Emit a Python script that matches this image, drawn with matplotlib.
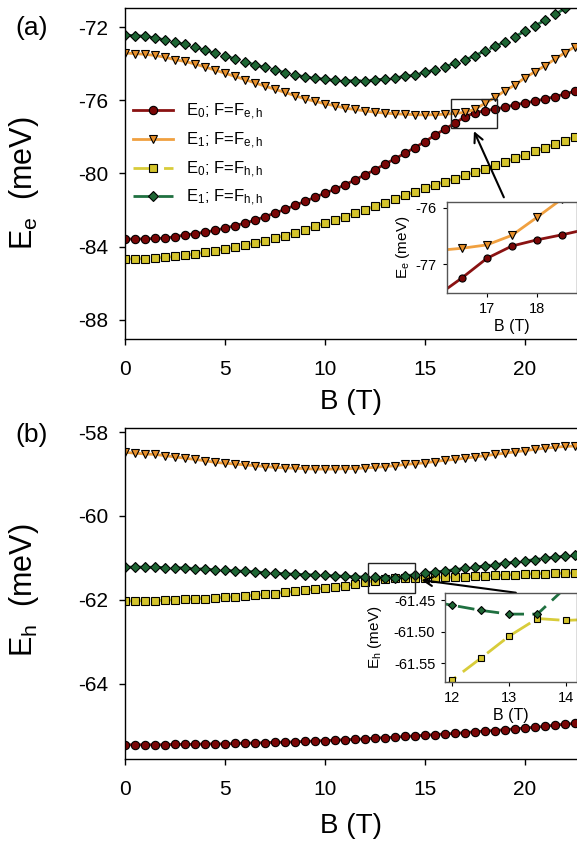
import matplotlib
matplotlib.use('Agg')
import matplotlib.pyplot as plt
from matplotlib.lines import Line2D
from matplotlib.patches import Rectangle

plt.rcParams['font.family'] = ['Liberation Sans', 'DejaVu Sans']
plt.rcParams['mathtext.fontset'] = 'custom'
plt.rcParams['mathtext.rm'] = 'Liberation Sans'
plt.rcParams['mathtext.it'] = 'Liberation Sans:italic'
plt.rcParams['axes.unicode_minus'] = False

# magnetic field (T)
B = [0.0, 0.5, 1.0, 1.5, 2.0, 2.5, 3.0, 3.5, 4.0, 4.5, 5.0, 5.5, 6.0, 6.5, 7.0, 7.5,
     8.0, 8.5, 9.0, 9.5, 10.0, 10.5, 11.0, 11.5, 12.0, 12.5, 13.0, 13.5, 14.0, 14.5,
     15.0, 15.5, 16.0, 16.5, 17.0, 17.5, 18.0, 18.5, 19.0, 19.5, 20.0, 20.5, 21.0,
     21.5, 22.0, 22.5]

# (a) electron energies (meV)
ee_E0_feh = [-83.58, -83.58, -83.57, -83.55, -83.53, -83.45, -83.36, -83.29, -83.20, -83.11,
             -82.98, -82.85, -82.71, -82.55, -82.36, -82.16, -81.96, -81.74, -81.52, -81.30,
             -81.07, -80.86, -80.62, -80.35, -80.07, -79.80, -79.48, -79.20, -78.89, -78.58,
             -78.26, -77.90, -77.57, -77.25, -76.90, -76.68, -76.57, -76.48, -76.38, -76.24,
             -76.15, -76.04, -75.93, -75.80, -75.66, -75.50]
ee_E1_feh = [-73.42, -73.45, -73.49, -73.55, -73.65, -73.78, -73.88, -74.02, -74.18, -74.35,
             -74.52, -74.70, -74.87, -75.05, -75.23, -75.40, -75.57, -75.75, -75.92, -76.06,
             -76.19, -76.30, -76.43, -76.50, -76.58, -76.65, -76.70, -76.74, -76.76, -76.79,
             -76.80, -76.79, -76.76, -76.72, -76.66, -76.49, -76.17, -75.84, -75.48, -75.16,
             -74.77, -74.44, -74.11, -73.75, -73.40, -73.07]
ee_E0_fhh = [-84.67, -84.67, -84.65, -84.62, -84.58, -84.53, -84.47, -84.39, -84.31, -84.22,
             -84.13, -84.03, -83.93, -83.80, -83.67, -83.53, -83.39, -83.23, -83.07, -82.89,
             -82.71, -82.53, -82.35, -82.16, -81.98, -81.79, -81.60, -81.40, -81.20, -81.00,
             -80.81, -80.62, -80.45, -80.28, -80.10, -79.93, -79.75, -79.55, -79.36, -79.17,
             -78.97, -78.79, -78.59, -78.39, -78.20, -77.99]
ee_E1_fhh = [-72.44, -72.47, -72.50, -72.60, -72.70, -72.83, -72.95, -73.08, -73.28, -73.43,
             -73.57, -73.74, -73.89, -74.07, -74.21, -74.35, -74.49, -74.62, -74.72, -74.79,
             -74.86, -74.91, -74.93, -74.94, -74.93, -74.89, -74.84, -74.77, -74.70, -74.61,
             -74.48, -74.33, -74.16, -73.99, -73.80, -73.56, -73.30, -73.06, -72.80, -72.52,
             -72.23, -71.93, -71.63, -71.31, -70.98, -70.65]

# (b) hole energies (meV)
eh_E0_feh = [-65.46, -65.46, -65.46, -65.46, -65.46, -65.45, -65.45, -65.45, -65.44, -65.44,
             -65.44, -65.43, -65.42, -65.42, -65.41, -65.40, -65.40, -65.39, -65.38, -65.37,
             -65.36, -65.35, -65.34, -65.33, -65.32, -65.30, -65.29, -65.28, -65.26, -65.25,
             -65.23, -65.22, -65.20, -65.19, -65.17, -65.15, -65.13, -65.12, -65.10, -65.08,
             -65.06, -65.04, -65.02, -64.99, -64.97, -64.95]
eh_E1_feh = [-58.48, -58.50, -58.52, -58.53, -58.56, -58.59, -58.62, -58.65, -58.68, -58.72,
             -58.74, -58.76, -58.78, -58.80, -58.82, -58.84, -58.85, -58.86, -58.87, -58.88,
             -58.88, -58.88, -58.87, -58.87, -58.85, -58.84, -58.82, -58.80, -58.77, -58.75,
             -58.73, -58.70, -58.67, -58.65, -58.62, -58.59, -58.56, -58.53, -58.50, -58.47,
             -58.44, -58.41, -58.38, -58.36, -58.34, -58.33]
eh_E0_fhh = [-62.03, -62.03, -62.02, -62.02, -62.01, -62.00, -61.99, -61.98, -61.97, -61.96,
             -61.94, -61.93, -61.91, -61.89, -61.87, -61.85, -61.82, -61.80, -61.77, -61.75,
             -61.72, -61.69, -61.66, -61.62, -61.576, -61.542, -61.507, -61.479, -61.482, -61.480,
             -61.475, -61.47, -61.465, -61.46, -61.45, -61.44, -61.43, -61.42, -61.41, -61.40,
             -61.39, -61.38, -61.375, -61.37, -61.365, -61.36]
eh_E1_fhh = [-61.22, -61.22, -61.22, -61.225, -61.23, -61.235, -61.24, -61.255, -61.27, -61.285,
             -61.30, -61.31, -61.32, -61.335, -61.35, -61.365, -61.38, -61.39, -61.40, -61.41,
             -61.42, -61.43, -61.44, -61.45, -61.458, -61.466, -61.472, -61.472, -61.43, -61.40,
             -61.37, -61.34, -61.31, -61.28, -61.25, -61.22, -61.19, -61.16, -61.13, -61.10,
             -61.07, -61.04, -61.01, -60.985, -60.96, -60.94]

labels = [r'E$_0$; F=F$_{\rm e,h}$', r'E$_1$; F=F$_{\rm e,h}$',
          r'E$_0$; F=F$_{\rm h,h}$', r'E$_1$; F=F$_{\rm h,h}$']

# style per series: line colour, face colour, marker, size, dashes
red = dict(color='#8a1212', mfc='#7a0606', marker='o', ms=6.0, ls='-')
ora = dict(color='#f0a040', mfc='#e8902a', marker='v', ms=6.3, ls='-')
yel = dict(color='#d8cc3a', mfc='#d4c42c', marker='s', ms=5.3, ls=(0, (8, 3)))
gre = dict(color='#1f7040', mfc='#1e6634', marker='D', ms=5.0, ls=(0, (6, 3)))
styles = [red, ora, yel, gre]


def draw(ax, series, scale=1.0):
    for y, st in zip(series, styles):
        ax.plot(B, y, color=st['color'], ls=st['ls'], lw=2.0, marker=st['marker'],
                ms=st['ms'] * scale, mfc=st['mfc'], mec='black', mew=0.8)


fig = plt.figure(figsize=(5.77, 8.42), dpi=100)

axA = fig.add_axes([125 / 577, 503 / 842, 452 / 577, 331 / 842])
axB = fig.add_axes([125 / 577, 83 / 842, 452 / 577, 331 / 842])

seriesA = [ee_E0_feh, ee_E1_feh, ee_E0_fhh, ee_E1_fhh]
seriesB = [eh_E0_feh, eh_E1_feh, eh_E0_fhh, eh_E1_fhh]
draw(axA, seriesA)
draw(axB, seriesB)

for ax in (axA, axB):
    ax.set_xlim(0, 22.6)
    ax.set_xticks([0, 5, 10, 15, 20])
    ax.spines['right'].set_visible(False)
    for s in ('left', 'bottom', 'top'):
        ax.spines[s].set_linewidth(1.0)
    ax.tick_params(direction='out', length=4, width=1, labelsize=15, top=False, right=False)
    ax.tick_params(axis='x', pad=11)
    ax.tick_params(axis='y', pad=8)
    ax.set_xlabel('B (T)', fontsize=20)

axA.set_ylim(-89.04, -70.96)
axA.set_yticks([-72, -76, -80, -84, -88])
axA.set_ylabel(r'E$_{\rm e}$  (meV)', fontsize=22)
axB.set_ylim(-65.8, -57.9)
axB.set_yticks([-58, -60, -62, -64])
axB.set_ylabel(r'E$_{\rm h}$  (meV)', fontsize=22)

axA.yaxis.set_label_coords(-0.185, 0.47)
axB.yaxis.set_label_coords(-0.185, 0.51)
axA.xaxis.set_label_coords(0.5, -0.15)
axB.xaxis.set_label_coords(0.5, -0.163)

handles = [Line2D([0], [0], color=st['color'], ls=st['ls'], lw=2.0, marker=st['marker'],
                  ms=st['ms'], mfc=st['mfc'], mec='black', mew=0.8) for st in styles]
axA.legend(handles, labels, loc='upper left', bbox_to_anchor=(0.018, 0.716), frameon=False,
           fontsize=12, handlelength=2.4, handletextpad=0.8, labelspacing=0.5,
           borderaxespad=0, borderpad=0)

fig.text(0.055, 0.967, '(a)', fontsize=19, ha='center', va='center')
fig.text(0.055, 0.483, '(b)', fontsize=19, ha='center', va='center')

# zoom boxes and arrows
axA.add_patch(Rectangle((16.28, -77.53), 2.34, 1.59, fill=False, ec='#222222', lw=1.0, zorder=5))
axA.annotate('', xy=(17.39, -77.55), xytext=(19.0, -81.44),
             arrowprops=dict(arrowstyle='->', color='black', lw=1.5, mutation_scale=16))
axB.add_patch(Rectangle((12.14, -61.83), 2.35, 0.71, fill=False, ec='#222222', lw=1.0, zorder=5))
axB.annotate('', xy=(14.68, -61.52), xytext=(19.68, -61.84),
             arrowprops=dict(arrowstyle='->', color='black', lw=1.5, mutation_scale=16))

# insets
insA = fig.add_axes([0.7742, 0.6524, 0.2258, 0.1081])
draw(insA, seriesA, scale=0.85)
insA.set_xlim(16.2, 18.8)
insA.set_ylim(-77.51, -75.89)
insA.set_xticks([17, 18])
insA.set_yticks([-76, -77])
insA.set_xlabel('B (T)', fontsize=11.5, labelpad=2)
insA.set_ylabel(r'E$_{\rm e}$ (meV)', fontsize=11)
insA.yaxis.set_label_coords(-0.27, 0.5)

insB = fig.add_axes([0.7712, 0.1904, 0.2288, 0.1050])
draw(insB, seriesB, scale=0.85)
insB.set_xlim(11.87, 14.2)
insB.set_ylim(-61.579, -61.439)
insB.set_xticks([12, 13, 14])
insB.set_yticks([-61.45, -61.50, -61.55])
insB.set_yticklabels(['-61.45', '-61.50', '-61.55'])
insB.set_xlabel('B (T)', fontsize=11.5, labelpad=2)
insB.set_ylabel(r'E$_{\rm h}$ (meV)', fontsize=11)
insB.yaxis.set_label_coords(-0.46, 0.5)

for ins in (insA, insB):
    ins.set_facecolor('white')
    for s in ins.spines.values():
        s.set_color('#555555')
        s.set_linewidth(1.0)
    ins.tick_params(direction='out', length=3, width=0.8, labelsize=10.5, pad=4, colors='black')

fig.savefig('out.png', dpi=100)
